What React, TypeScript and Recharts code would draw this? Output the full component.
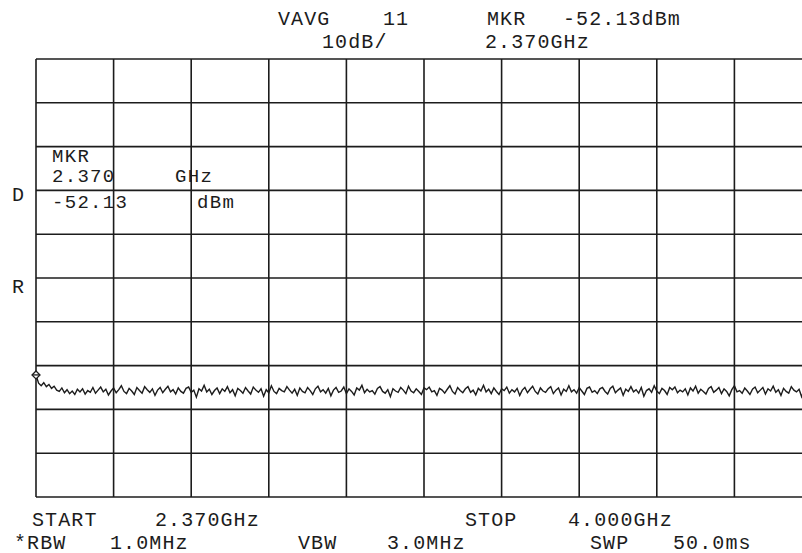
import { LineChart, Line, XAxis, YAxis, CartesianGrid, ReferenceDot } from "recharts";

// Sweep: 2.370 GHz -> 4.000 GHz, ref level +20 dBm, 10 dB/div.
const REF_DBM = 20;
const DB_PER_DIV = 10;
const DIVS = 10;

// marker sits on the first sweep point
const MARKER_POINT = 0;
const MARKER_DBM = -52.13;

// trace values (dBm), one per sweep point
const TRACE_DBM = [
  -52.13, -54.0, -54.6, -53.9, -54.8, -54.3, -55.2, -54.7, -55.6, -55.9, -55.1, -56.2, -55.5, -56.4, -55.8, -56.6, -55.4, -56.0, -55.3, -56.5,
  -55.7, -56.1, -55.0, -56.3, -55.6, -54.9, -56.0, -55.4, -56.7, -55.8, -55.1, -56.2, -55.5, -54.6, -55.9, -56.4, -55.2, -55.8, -56.6, -55.0,
  -55.7, -56.3, -54.8, -55.5, -56.1, -55.3, -56.8, -55.6, -55.0, -56.2, -55.4, -54.7, -56.0, -55.5, -56.5, -55.1, -55.9, -56.3, -55.2, -54.9,
  -56.1, -55.6, -57.2, -55.3, -55.8, -54.5, -56.0, -55.4, -56.6, -55.7, -55.1, -56.4, -55.3, -55.9, -54.8, -56.2, -55.5, -56.9, -55.2, -55.7,
  -56.3, -55.0, -55.8, -56.5, -54.9, -55.6, -56.1, -55.3, -57.0, -55.5, -56.2, -54.6, -55.9, -56.4, -55.2, -55.7, -56.0, -54.8, -55.6, -56.3,
  -55.4, -56.8, -55.1, -55.9, -56.2, -55.0, -55.7, -56.6, -55.3, -54.7, -56.0, -55.5, -56.3, -55.2, -56.9, -55.6, -55.0, -56.1, -55.8, -54.9,
  -56.4, -55.3, -55.9, -56.7, -55.1, -55.6, -54.5, -56.2, -55.4, -56.0, -55.7, -56.5, -55.2, -54.8, -55.9, -56.3, -55.5, -57.1, -55.3, -55.8,
  -56.1, -55.0, -55.6, -56.4, -54.7, -55.8, -56.2, -55.3, -55.9, -56.6, -55.1, -55.5, -54.9, -56.0, -55.7, -56.8, -55.2, -55.6, -56.3, -55.4,
  -54.6, -55.9, -56.5, -55.0, -55.7, -56.2, -55.3, -54.8, -56.1, -55.6, -56.7, -55.2, -55.8, -54.5, -56.0, -55.4, -56.4, -55.1, -55.9, -56.6,
  -55.3, -55.7, -54.9, -56.3, -55.5, -56.0, -55.2, -56.8, -55.6, -55.0, -56.2, -55.4, -54.7, -55.9, -56.5, -55.1, -55.8, -56.1, -55.3, -54.8,
  -56.4, -55.6, -55.1, -56.7, -55.4, -55.9, -54.6, -56.0, -55.5, -56.3, -55.0, -55.8, -56.6, -55.2, -54.9, -56.1, -55.7, -56.4, -55.3, -55.0,
  -55.9, -56.5, -55.2, -54.7, -56.2, -55.6, -55.1, -56.8, -55.4, -55.9, -54.8, -56.0, -55.5, -56.3, -55.0, -57.0, -55.7, -55.3, -56.1, -54.6,
  -55.8, -56.4, -55.2, -55.7, -56.6, -55.0, -55.5, -54.9, -56.2, -55.6, -56.0, -55.3, -56.7, -55.1, -55.8, -54.7, -56.3, -55.4, -55.9, -56.5,
  -55.2, -54.8, -56.1, -55.6, -55.0, -56.4, -55.3, -55.9, -56.9, -55.5, -54.6, -56.0, -55.7, -56.3, -55.1, -55.8, -56.6, -55.4, -54.9, -56.2,
  -55.6, -55.0, -56.5, -55.3, -55.8, -54.7, -56.1, -55.5, -56.8, -55.2, -55.9, -56.3, -54.8, -55.6, -56.0, -55.4, -57.1, -55.7, -55.1, -56.2, -55.5,
];

const TOP_LINES = [
  { text: "VAVG", x: 278, y: 25 },
  { text: "11", x: 383, y: 25 },
  { text: "MKR", x: 487, y: 25 },
  { text: "-52.13dBm", x: 563, y: 25 },
  { text: "10dB/", x: 322, y: 48 },
  { text: "2.370GHz", x: 485, y: 48 },
];

const MARKER_LINES = [
  { text: "MKR", x: 52, y: 162 },
  { text: "2.370", x: 52, y: 182 },
  { text: "GHz", x: 175, y: 182 },
  { text: "-52.13", x: 52, y: 208 },
  { text: "dBm", x: 197, y: 208 },
];

const SIDE_LINES = [
  { text: "D", x: 12, y: 201 },
  { text: "R", x: 12, y: 293 },
];

const BOTTOM_LINES = [
  { text: "START", x: 32, y: 526 },
  { text: "2.370GHz", x: 155, y: 526 },
  { text: "STOP", x: 465, y: 526 },
  { text: "4.000GHz", x: 568, y: 526 },
  { text: "*RBW", x: 14, y: 549 },
  { text: "1.0MHz", x: 110, y: 549 },
  { text: "VBW", x: 298, y: 549 },
  { text: "3.0MHz", x: 387, y: 549 },
  { text: "SWP", x: 590, y: 549 },
  { text: "50.0ms", x: 673, y: 549 },
];

const INK = "#1c1c1c";
const FONT = "'Liberation Mono', 'DejaVu Sans Mono', monospace";

const lastPoint = TRACE_DBM.length - 1;
const data = TRACE_DBM.map((v, i) => ({ p: i, v }));
const xTicks = Array.from({ length: DIVS + 1 }, (_, i) => (lastPoint * i) / DIVS);
const bottom = REF_DBM - DB_PER_DIV * DIVS;
const yTicks = Array.from({ length: DIVS + 1 }, (_, i) => bottom + i * DB_PER_DIV);

function MarkerGlyph(props: any) {
  const { cx, cy } = props;
  return (
    <g stroke={INK} strokeWidth={1.3} fill="#fff">
      <path d={`M${cx},${cy - 4} L${cx + 4},${cy} L${cx},${cy + 4} L${cx - 4},${cy} Z`} />
      <line x1={cx - 3} y1={cy} x2={cx + 3} y2={cy} />
    </g>
  );
}

export default function App() {
  const all = [...TOP_LINES, ...SIDE_LINES, ...BOTTOM_LINES];
  return (
    <div style={{ position: "fixed", left: 0, top: 0, width: 802, height: 553, overflow: "hidden", background: "#fff" }}>
      <LineChart
        width={830}
        height={553}
        data={data}
        margin={{ top: 59, left: 36, right: 18, bottom: 56 }}
      >
        <CartesianGrid stroke={INK} strokeWidth={1.6} />
        <XAxis dataKey="p" type="number" domain={[0, lastPoint]} ticks={xTicks} hide />
        <YAxis type="number" domain={[bottom, REF_DBM]} ticks={yTicks} hide />
        <Line
          dataKey="v"
          type="linear"
          stroke={INK}
          strokeWidth={1.4}
          dot={false}
          isAnimationActive={false}
        />
        <ReferenceDot x={MARKER_POINT} y={MARKER_DBM} shape={MarkerGlyph} />
      </LineChart>
      <svg
        width={802}
        height={553}
        style={{ position: "absolute", left: 0, top: 0, pointerEvents: "none" }}
      >
        {all.map((t, i) => (
          <text key={i} x={t.x} y={t.y} fontFamily={FONT} fontSize={20} letterSpacing={1.1} fill={INK}>
            {t.text}
          </text>
        ))}
        {/* marker readout block is drawn a touch smaller on the screen */}
        {MARKER_LINES.map((t, i) => (
          <text key={"m" + i} x={t.x} y={t.y} fontFamily={FONT} fontSize={19} letterSpacing={1.3} fill={INK}>
            {t.text}
          </text>
        ))}
      </svg>
    </div>
  );
}
